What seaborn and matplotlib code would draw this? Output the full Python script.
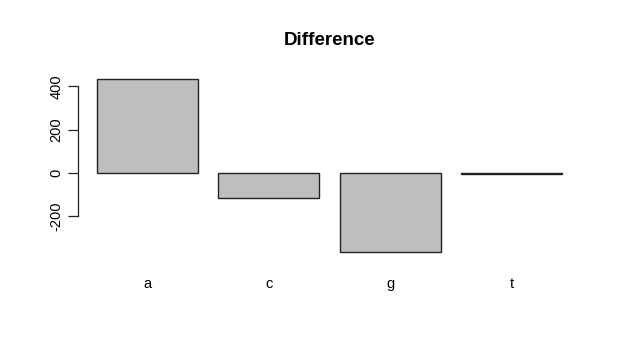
import matplotlib
matplotlib.use("Agg")
import matplotlib.pyplot as plt
import seaborn as sns
import pandas as pd

# data
bases = ["a", "c", "g", "t"]
difference = [435, -116, -366, -3]

sns.set_style("white")
plt.rcParams["font.family"] = ["Liberation Sans", "DejaVu Sans"]
plt.rcParams["text.color"] = "black"

df = pd.DataFrame({"base": bases, "diff": difference})

fig = plt.figure(figsize=(6.21, 3.51), dpi=100)
ax = fig.add_axes([0.1256, 0.262, 0.81, 0.533])

sns.barplot(data=df, x="base", y="diff", color="#bebebe", saturation=1,
            edgecolor="#222222", linewidth=1.0, width=1 / 1.2, ax=ax)

# R style axis ranges (4% padding)
lo, hi = min(difference), max(difference)
pad = 0.04 * (hi - lo)
ax.set_ylim(lo - pad, hi + pad)
ax.set_xlim(-0.57, 3.57)

ax.set_yticks([-200, 0, 200, 400])
ax.set_yticklabels(["-200", "0", "200", "400"], rotation=90, va="center", fontsize=10.5)
ax.tick_params(axis="y", direction="out", length=7.5, width=0.9, pad=3, left=True,
               color="#222222", labelcolor="black")
ax.tick_params(axis="x", length=0, pad=13, labelsize=10.5, labelcolor="black")

for s in ["top", "right", "bottom"]:
    ax.spines[s].set_visible(False)
ax.spines["left"].set_bounds(-200, 400)
ax.spines["left"].set_color("#222222")
ax.spines["left"].set_linewidth(0.9)

ax.set_xlabel("")
ax.set_ylabel("")
fig.text(0.53, 0.885, "Difference", ha="center", va="center", fontsize=13.5,
         fontweight="bold", color="black")

fig.savefig("out.png", dpi=100)
